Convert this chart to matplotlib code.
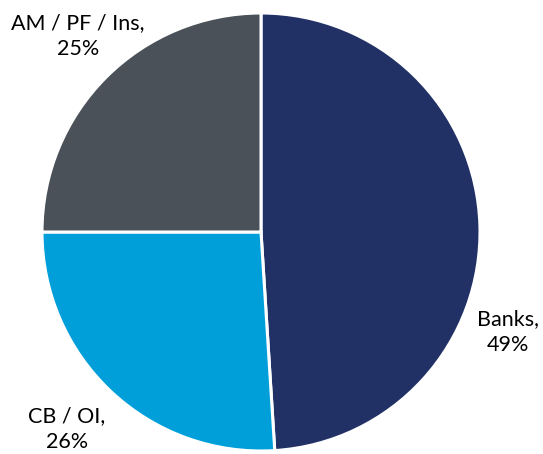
import matplotlib.pyplot as plt

labels = ["Banks,\n49%", "CB / OI,\n26%", "AM / PF / Ins,\n25%"]
shares = [49, 26, 25]
colors = ["#213166", "#009fda", "#4a5158"]

W, H = 543, 454
fig = plt.figure(figsize=(W / 100, H / 100), dpi=100)
ax = fig.add_axes([0, 0, 1, 1])

ax.pie(shares, colors=colors, startangle=90, counterclock=False,
       center=(261, H - 232), radius=219,
       wedgeprops=dict(edgecolor="white", linewidth=2.2))

ax.set_xlim(0, W)
ax.set_ylim(0, H)
ax.set_aspect("equal")
ax.axis("off")

# label positions in pixels (x, y from top)
pos = [(508, 332), (67, 429), (78, 36)]
for lab, (x, y) in zip(labels, pos):
    ax.text(x, H - y, lab, ha="center", va="center", fontsize=15.5,
            family="Lato", linespacing=1.4, color="black")

fig.savefig("out.png", dpi=100)
